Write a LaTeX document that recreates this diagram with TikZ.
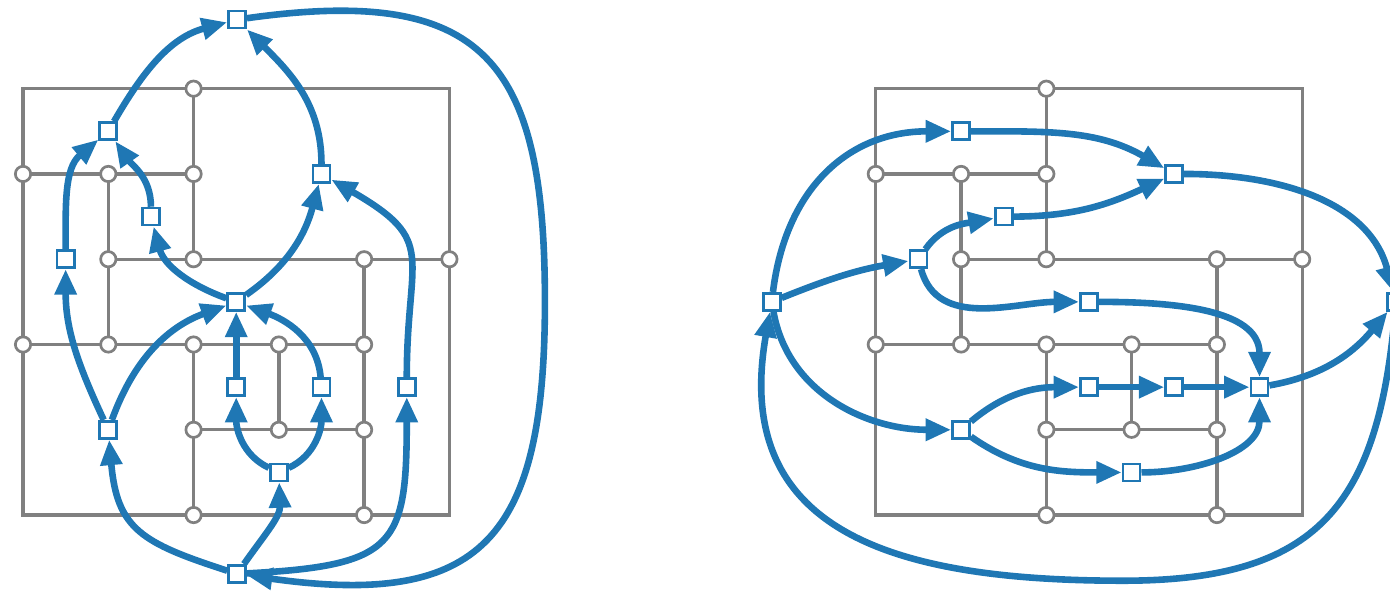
\documentclass[tikz,border=0pt]{standalone}
\usetikzlibrary{arrows.meta}

\definecolor{dualblue}{HTML}{1F77B4}
\definecolor{gridgray}{HTML}{808080}

\tikzstyle{vertex}=[circle, draw=gridgray, fill=white, line width=0.9pt,
                    minimum size=0.18cm, inner sep=0pt]
\tikzstyle{face}=[rectangle, draw=dualblue, fill=white, line width=0.9pt,
                  minimum size=0.2cm, inner sep=0pt]
\tikzstyle{edge}=[gridgray, line width=1.1pt]
\tikzstyle{dual}=[dualblue, line width=2.2pt,
                  -{Triangle[length=8.5pt, width=7pt]}]

\begin{document}
\begin{tikzpicture}

  \useasboundingbox (-0.27, -0.914) rectangle (16.03, 6.04);

  %%%%%%%%%%%%%%%%%%%%%%%%%%%%%%
  % the two grids (same subdivision)
  \foreach \gx/\g in {0/l, 10/r} {
    \draw [edge, xshift=\gx cm] (0, 0) rectangle (5, 5)
      (2, 5) -- (2, 3)  (0, 4) -- (2, 4)  (1, 4) -- (1, 2)  (1, 3) -- (5, 3)
      (0, 2) -- (4, 2)  (4, 3) -- (4, 0)  (2, 2) -- (2, 0)  (3, 2) -- (3, 1)
      (2, 1) -- (4, 1);
    \foreach \x/\y in {2/5, 0/4, 1/4, 2/4, 1/3, 2/3, 4/3, 5/3, 0/2, 1/2,
                       2/2, 3/2, 4/2, 2/1, 3/1, 4/1, 2/0, 4/0}
      \node (\g v\x\y) at (\gx + \x, \y) [vertex] {};
  }

  %%%%%%%%%%%%%%%%%%%%%%%%%%%%%%
  % left: faces
  \node (l_top) at (2.51, 5.81) [face] {};
  \node (l_bot) at (2.51, -0.69) [face] {};
  \node (l_nw) at (1, 4.5) [face] {};
  \node (l_ne) at (3.5, 4) [face] {};
  \node (l_in) at (1.5, 3.5) [face] {};
  \node (l_w) at (0.5, 3) [face] {};
  \node (l_mid) at (2.5, 2.5) [face] {};
  \node (l_s1) at (2.5, 1.5) [face] {};
  \node (l_s2) at (3.5, 1.5) [face] {};
  \node (l_e) at (4.5, 1.5) [face] {};
  \node (l_sw) at (1, 1) [face] {};
  \node (l_s) at (3, 0.5) [face] {};
  \coordinate (l_loop) at (6.12, 2.5);

  \draw [dual] (l_nw) to [out=60, in=195] (l_top);
  \draw [dual] (l_ne) to [out=90, in=-45] (l_top);
  \draw [dual] (l_w) to [out=90, in=-140] (l_nw);
  \draw [dual] (l_in) to [out=90, in=-55] (l_nw);
  \draw [dual] (l_mid) to [out=160, in=-75] (l_in);
  \draw [dual] (l_mid) to [out=35, in=-105] (l_ne);
  \draw [dual] (l_e) to [out=90, in=-30, looseness=1.5] (l_ne);
  \draw [dual] (l_sw) to [out=115, in=-90] (l_w);
  \draw [dual] (l_sw) to [out=70, in=-160] (l_mid);
  \draw [dual] (l_s1) to (l_mid);
  \draw [dual] (l_s2) to [out=95, in=-20] (l_mid);
  \draw [dual] (l_s) to [out=155, in=-90] (l_s1);
  \draw [dual] (l_s) to [out=25, in=-90] (l_s2);
  \draw [dual] (l_bot) to [out=162, in=-85, looseness=1.3] (l_sw);
  \draw [dual] (l_bot) to [out=55, in=-88] (l_s);
  \draw [dual] (l_bot) to [out=3, in=-90, looseness=1.6] (l_e);
  \draw [dual] (l_top) to [out=8, in=90, looseness=1.5] (l_loop)
                       to [out=-90, in=-8, looseness=1.5] (l_bot);

  %%%%%%%%%%%%%%%%%%%%%%%%%%%%%%
  % right: faces
  \node (r_left) at (8.78, 2.5) [face] {};
  \node (r_right) at (16.1, 2.5) [face] {};
  \node (r_w) at (10.5, 3) [face] {};
  \node (r_nw) at (11, 4.5) [face] {};
  \node (r_in) at (11.5, 3.5) [face] {};
  \node (r_ne) at (13.5, 4) [face] {};
  \node (r_mid) at (12.5, 2.5) [face] {};
  \node (r_e) at (14.5, 1.5) [face] {};
  \node (r_s1) at (12.5, 1.5) [face] {};
  \node (r_s2) at (13.5, 1.5) [face] {};
  \node (r_sw) at (11, 1) [face] {};
  \node (r_s) at (13, 0.5) [face] {};
  \coordinate (r_loop) at (12.9, -0.77);

  \draw [dual] (r_left) to [out=83, in=180, looseness=1.1] (r_nw);
  \draw [dual] (r_left) to [out=22, in=190] (r_w);
  \draw [dual] (r_w) to [out=55, in=190] (r_in);
  \draw [dual] (r_nw) to [out=0, in=150] (r_ne);
  \draw [dual] (r_in) to [out=0, in=205] (r_ne);
  \draw [dual] (r_w) to [out=-75, in=180] (r_mid);
  \draw [dual] (r_ne) to [out=0, in=105] (r_right);
  \draw [dual] (r_mid) to [out=0, in=90] (r_e);
  \draw [dual] (r_left) to [out=-80, in=180] (r_sw);
  \draw [dual] (r_sw) to [out=40, in=180] (r_s1);
  \draw [dual] (r_s1) to (r_s2);
  \draw [dual] (r_s2) to (r_e);
  \draw [dual] (r_sw) to [out=-35, in=180] (r_s);
  \draw [dual] (r_s) to [out=0, in=-90] (r_e);
  \draw [dual] (r_e) to [out=10, in=230] (r_right);
  \draw [dual] (r_right) to [out=-95, in=0, looseness=1.3] (r_loop)
                         to [out=180, in=-100, looseness=1.3] (r_left);

\end{tikzpicture}
\end{document}
